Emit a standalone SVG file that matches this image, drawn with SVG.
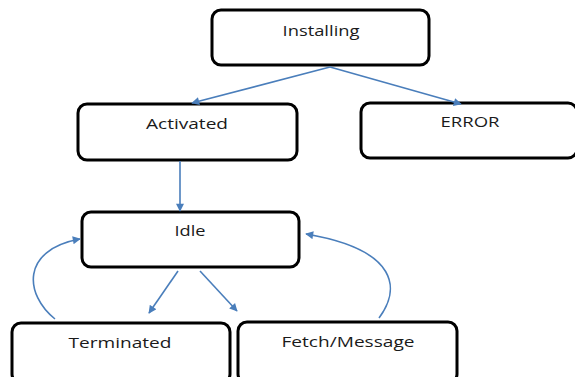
<svg xmlns="http://www.w3.org/2000/svg" width="575" height="377" viewBox="0 0 575 377">
<defs>
<style>
.box{fill:#fff;stroke:#000;stroke-width:3}
.lbl{font-family:"Open Sans","Liberation Sans",sans-serif;font-size:15px;fill:#1a1a1a;text-anchor:middle}
.con{fill:none;stroke:#4a7ebb;stroke-width:1.6}
</style>
<marker id="ah" viewBox="0 0 10 10" refX="9" refY="5" markerWidth="9" markerHeight="8" markerUnits="userSpaceOnUse" orient="auto">
<path d="M0,0 L10,5 L0,10 z" fill="#4a7ebb"/>
</marker>
</defs>
<rect width="575" height="377" fill="#fff"/>
<g id="installing"><rect class="box" x="212" y="10" width="217" height="55" rx="9"/><text class="lbl" x="321" y="36" textLength="77" lengthAdjust="spacingAndGlyphs">Installing</text></g>
<g id="activated"><rect class="box" x="78" y="104" width="219" height="56" rx="9"/><text class="lbl" x="187" y="129" textLength="82" lengthAdjust="spacingAndGlyphs">Activated</text></g>
<g id="error"><rect class="box" x="361" y="103" width="216" height="55" rx="9"/><text class="lbl" x="470" y="127" textLength="59" lengthAdjust="spacingAndGlyphs">ERROR</text></g>
<g id="idle"><rect class="box" x="82" y="212" width="217" height="55" rx="9"/><text class="lbl" x="190" y="236" textLength="31" lengthAdjust="spacingAndGlyphs">Idle</text></g>
<g id="terminated"><rect class="box" x="12" y="323" width="218" height="60" rx="9"/><text class="lbl" x="120" y="348" textLength="103" lengthAdjust="spacingAndGlyphs">Terminated</text></g>
<g id="fetch"><rect class="box" x="238" y="322" width="219" height="61" rx="9"/><text class="lbl" x="348" y="347" textLength="133" lengthAdjust="spacingAndGlyphs">Fetch/Message</text></g>
<g id="connectors">
<line class="con" x1="330" y1="67" x2="192" y2="103" marker-end="url(#ah)"/>
<line class="con" x1="330" y1="67" x2="461" y2="104" marker-end="url(#ah)"/>
<line class="con" x1="180" y1="161" x2="180" y2="211" marker-end="url(#ah)"/>
<line class="con" x1="178" y1="271" x2="149" y2="313" marker-end="url(#ah)"/>
<line class="con" x1="200" y1="271" x2="237" y2="311" marker-end="url(#ah)"/>
<path class="con" d="M55,319 C25,295 20,250 80,239" marker-end="url(#ah)"/>
<path class="con" d="M379,318 C400,290 400,250 306,234" marker-end="url(#ah)"/>
</g>
</svg>
